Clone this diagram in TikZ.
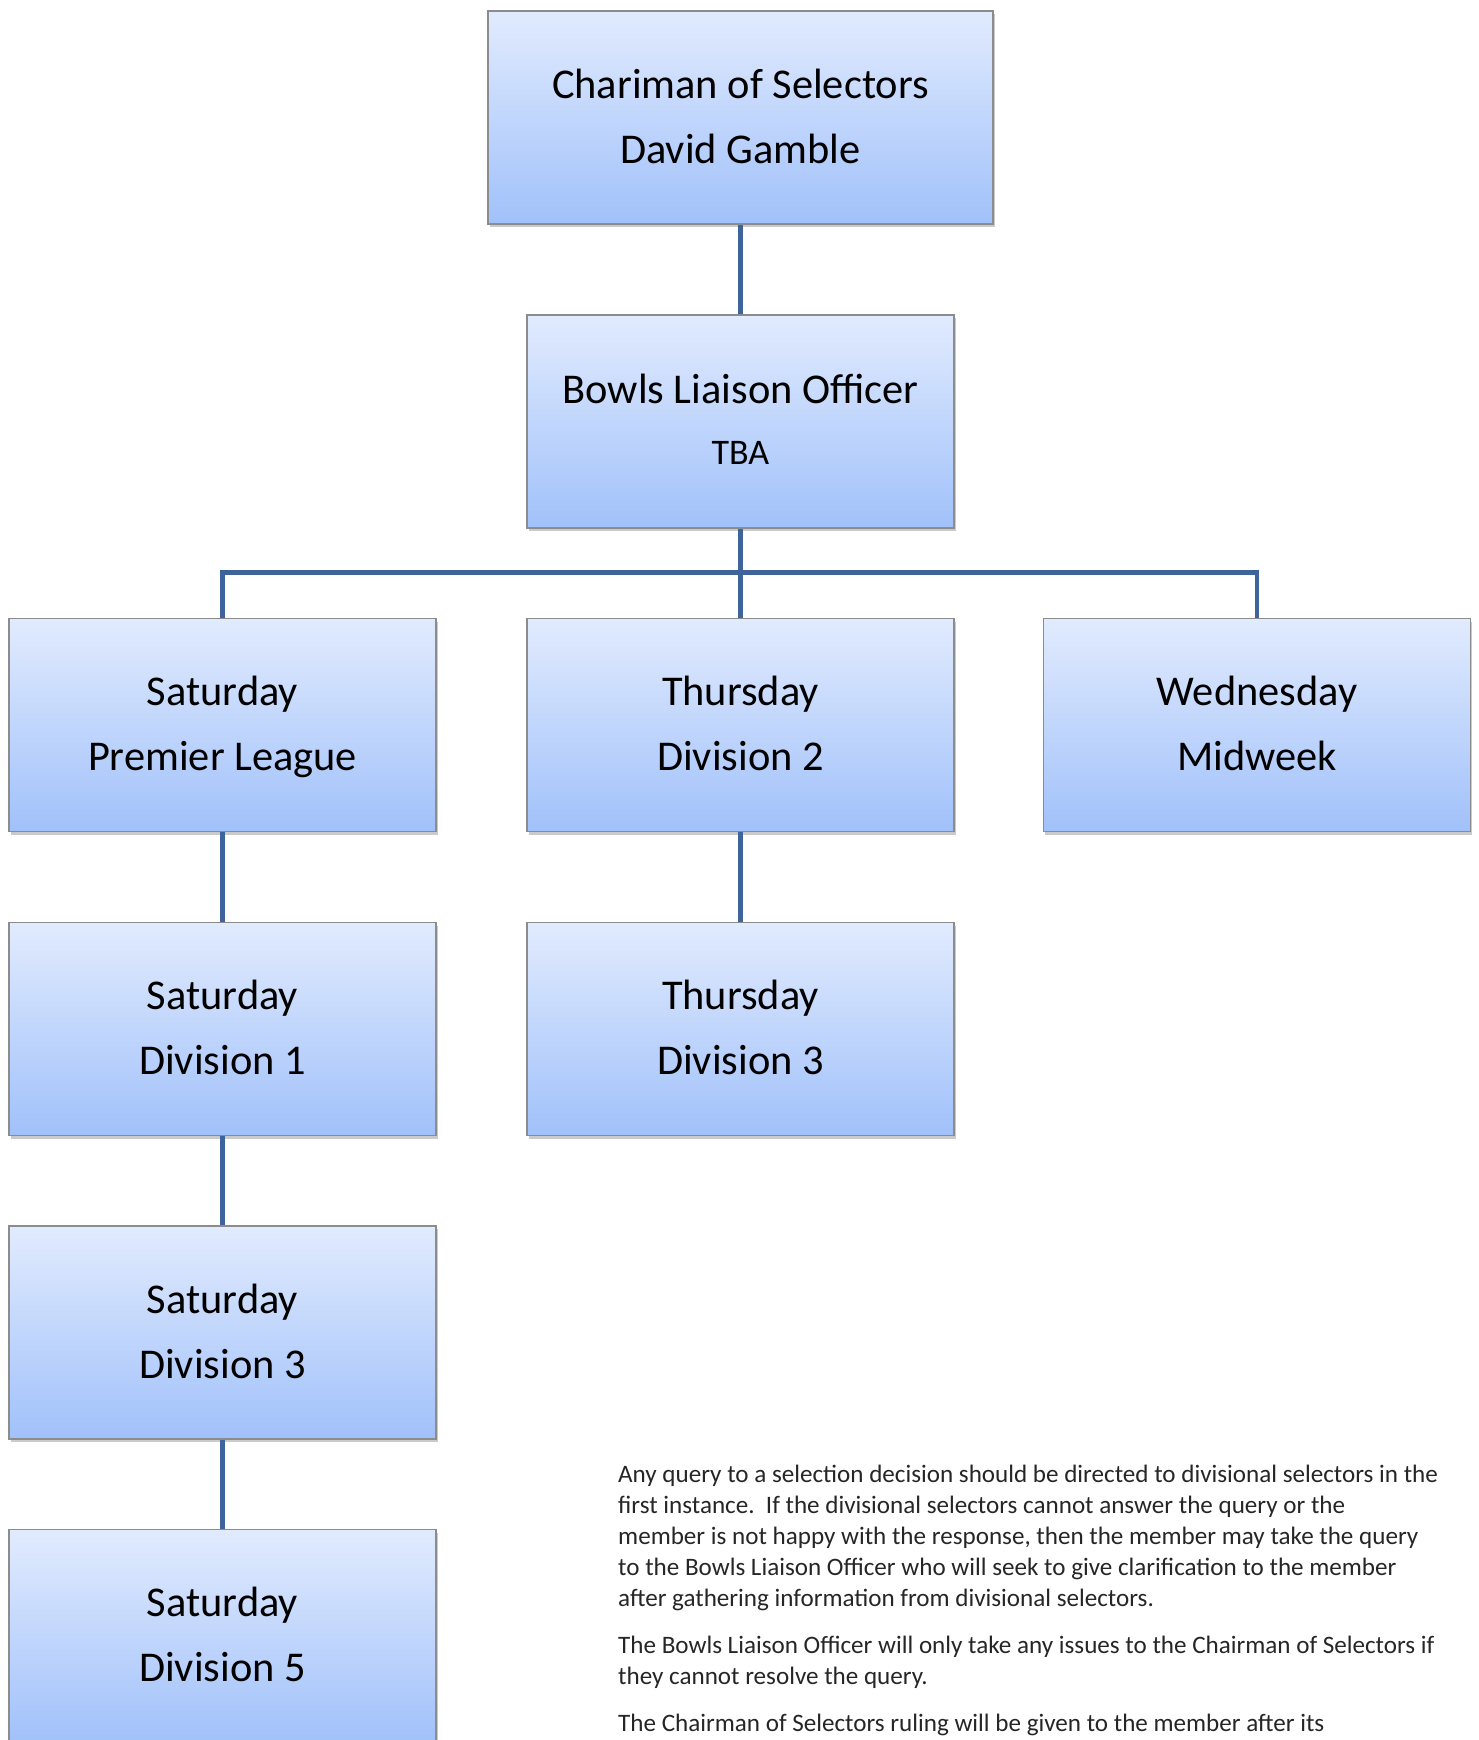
\documentclass[tikz,border=0pt]{standalone}
\usepackage{fontspec}
\setmainfont{Carlito}
\usetikzlibrary{shadows}
\definecolor{boxtop}{RGB}{225,235,254}
\definecolor{boxbot}{RGB}{161,193,250}
\definecolor{boxline}{RGB}{140,140,140}
\definecolor{conn}{RGB}{62,101,155}
\definecolor{bodytext}{RGB}{38,38,38}
\tikzset{
  orgbox/.style={draw=boxline, line width=1.2pt, top color=boxtop, bottom color=boxbot,
    minimum width=427pt, minimum height=213pt, inner sep=0pt, align=center,
    font=\fontsize{42.4}{65}\selectfont,
    drop shadow={shadow xshift=1.5pt, shadow yshift=-3pt, opacity=0.35, fill=black!60}},
  link/.style={draw=conn, line width=4.5pt}
}
\newcommand{\twolines}[2]{\strut #1\\\strut #2}
\begin{document}
\begin{tikzpicture}[x=1pt,y=-1pt]
\useasboundingbox (0,0) rectangle (1479,1740);
% nodes
\node[orgbox, minimum width=505pt] (chair) at (740.5,117.5) {\twolines{Chariman of Selectors}{David Gamble}};
\node[orgbox, font=\fontsize{42.4}{61}\selectfont] (blo) at (740.5,421.5) {\strut Bowls Liaison Officer\\\fontsize{36}{61}\selectfont\strut TBA};
\node[orgbox] (satpl) at (222.5,725) {\twolines{Saturday}{Premier League}};
\node[orgbox] (thu2) at (740.5,725) {\twolines{Thursday}{Division 2}};
\node[orgbox] (wed) at (1257,725) {\twolines{Wednesday}{Midweek}};
\node[orgbox] (sat1) at (222.5,1029) {\twolines{Saturday}{Division 1}};
\node[orgbox] (thu3) at (740.5,1029) {\twolines{Thursday}{Division 3}};
\node[orgbox] (sat3) at (222.5,1332.5) {\twolines{Saturday}{Division 3}};
\node[orgbox] (sat5) at (222.5,1636) {\twolines{Saturday}{Division 5}};
% connectors
\draw[link] (chair.south) -- (blo.north);
\draw[link] (blo.south) -- (thu2.north);
\path (blo.south) ++(0,44) coordinate (bar);
\draw[link, line join=miter] (satpl.north) |- (bar) -| (wed.north);
\draw[link] (satpl.south) -- (sat1.north);
\draw[link] (sat1.south) -- (sat3.north);
\draw[link] (sat3.south) -- (sat5.north);
\draw[link] (thu2.south) -- (thu3.north);
% note
\node[anchor=north west, inner sep=0pt, align=left, text=bodytext,
  font=\fontsize{25.1}{31}\selectfont] (note) at (618,1465) {%
Any query to a selection decision should be directed to divisional selectors in the\\
first instance.\ \ If the divisional selectors cannot answer the query or the\\
member is not happy with the response, then the member may take the query\\
to the Bowls Liaison Officer who will seek to give clarification to the member\\
after gathering information from divisional selectors.\\[16pt]
The Bowls Liaison Officer will only take any issues to the Chairman of Selectors if\\
they cannot resolve the query.\\[16pt]
The Chairman of Selectors ruling will be given to the member after its};
\end{tikzpicture}
\end{document}
